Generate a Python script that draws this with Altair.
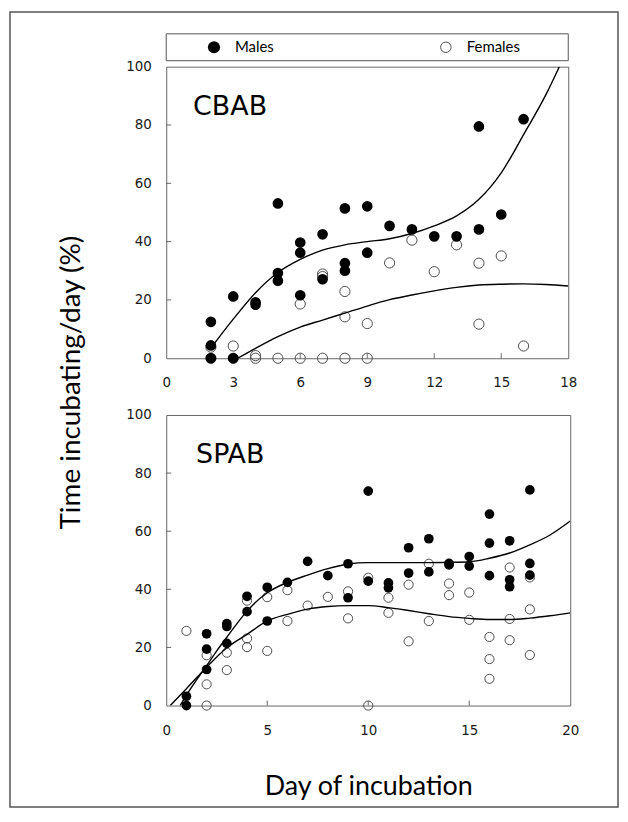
import altair as alt
import pandas as pd

# ---------------- data ----------------
panel_names = ["CBAB", "SPAB"]
legend_labels = ["Males", "Females"]

# CBAB (top panel)
cbab_m_day = [2, 2, 2, 3, 3, 4, 4, 5, 5, 5, 6, 6, 6, 7, 7, 8, 8, 8, 9, 9, 10, 11, 12, 13, 14, 14, 15, 16]
cbab_m_pct = [12.5, 4.4, 0, 21.2, 0, 19.2, 18.4, 53.1, 29.2, 26.6, 39.7, 36.2, 21.6, 42.5, 27.1,
              51.4, 32.6, 30.0, 52.1, 36.2, 45.4, 44.2, 41.8, 41.8, 79.5, 44.2, 49.3, 82.0]
cbab_f_day = [2, 2, 3, 3, 4, 4, 5, 6, 6, 7, 7, 7, 8, 8, 8, 9, 9, 10, 11, 12, 13, 14, 14, 15, 16]
cbab_f_pct = [3.8, 0, 4.2, 0, 0.9, 0, 0, 18.6, 0, 28.9, 28.0, 0, 22.9, 14.2, 0, 11.9, 0,
              32.7, 40.5, 29.7, 38.9, 32.6, 11.7, 35.1, 4.2]
cbab_fit_m_day = [2.05, 3, 4, 5, 6, 7, 8, 9, 10, 11, 12, 13, 14, 15, 16, 17, 17.6]
cbab_fit_m_pct = [4.0, 13.4, 22.5, 29.4, 33.9, 37.1, 38.9, 40.0, 41.0, 42.8, 45.4, 48.8, 54.5,
                  63.6, 76.7, 90.4, 100.0]
cbab_fit_f_day = [3.2, 4, 5, 6, 7, 8, 9, 10, 11, 12, 13, 14, 15, 16, 17, 18]
cbab_fit_f_pct = [0.0, 3.4, 7.4, 10.7, 13.1, 15.5, 17.9, 20.1, 21.7, 23.1, 24.3, 25.1, 25.4,
                  25.5, 25.3, 24.8]

# SPAB (bottom panel)
spab_m_day = [1, 1, 2, 2, 2, 3, 3, 3, 4, 4, 5, 5, 6, 7, 8, 9, 9, 10, 10, 11, 11, 12, 12, 13, 13,
              14, 14, 15, 15, 16, 16, 16, 17, 17, 17, 18, 18, 18]
spab_m_pct = [3.2, 0, 24.7, 19.4, 12.4, 28.2, 27.2, 21.4, 37.6, 32.3, 40.7, 29.1, 42.4, 49.6, 44.7,
              48.8, 37.1, 73.8, 42.8, 42.2, 40.5, 54.3, 45.6, 57.4, 46.0, 48.9, 48.4, 51.3, 48.0,
              65.9, 55.9, 44.7, 56.7, 43.3, 40.9, 74.2, 48.9, 44.9]
spab_f_day = [1, 2, 2, 2, 3, 3, 4, 4, 4, 5, 5, 6, 6, 7, 8, 9, 9, 10, 10, 11, 11, 12, 12, 13, 13,
              14, 14, 15, 15, 16, 16, 16, 17, 17, 17, 18, 18, 18]
spab_f_pct = [25.7, 17.3, 7.3, 0, 18.2, 12.2, 36.1, 23.1, 20.1, 37.3, 18.8, 39.7, 29.1, 34.4, 37.4,
              39.3, 30.0, 44.0, 0, 37.1, 31.9, 41.6, 22.1, 48.8, 29.1, 42.0, 38.0, 38.9, 29.5,
              23.6, 16.0, 9.2, 47.5, 29.8, 22.5, 44.1, 33.1, 17.4]
spab_fit_m_day = [0.69, 1, 1.5, 2, 2.5, 3, 3.5, 4, 5, 6, 7, 8, 9, 10, 11, 12, 13, 14, 15, 16, 17,
                  18, 19, 20]
spab_fit_m_pct = [0.0, 3.6, 8.8, 13.7, 18.8, 23.5, 28.2, 32.5, 38.8, 42.4, 44.9, 47.1, 48.7, 49.2,
                  49.2, 49.2, 49.2, 49.3, 49.5, 50.7, 52.5, 55.3, 58.7, 63.5]
spab_fit_f_day = [0.2, 1, 2, 3, 4, 5, 6, 7, 8, 9, 10, 11, 12, 13, 14, 15, 16, 17, 18, 19, 20]
spab_fit_f_pct = [0.0, 5.8, 13.2, 19.9, 24.5, 29.1, 31.4, 33.2, 34.1, 34.4, 34.4, 33.7, 32.7, 31.6,
                  30.6, 30.0, 29.6, 29.6, 30.1, 30.9, 31.9]

cbab_x_ticks = [0, 3, 6, 9, 12, 15, 18]
spab_x_ticks = [0, 5, 10, 15, 20]
y_ticks = [0, 20, 40, 60, 80, 100]

LABEL_FONT = "DejaVu Sans"
TITLE_FONT = "Lato"
FRAME = "#666666"
AXIS_BASE = dict(grid=False, domain=False, ticks=False, labelFlush=False,
                 labelFont=LABEL_FONT, labelFontSize=13.5, labelColor="#1a1a1a")


def df(days, pcts):
    return pd.DataFrame({"day": days, "pct": pcts})


def panel(name, m_day, m_pct, f_day, f_pct, fm_day, fm_pct, ff_day, ff_pct,
          x_ticks, w, h, lab_pad, x_title, y_title, name_pos, pt_size):
    xmax = x_ticks[-1]
    xs = alt.Scale(domain=[0, xmax], nice=False, zero=False)
    ys = alt.Scale(domain=[0, 100], nice=False)

    x_axis = alt.Axis(values=x_ticks, title=x_title, labelPadding=lab_pad,
                      titleFont=TITLE_FONT, titleFontSize=27, titleFontWeight="normal",
                      titleColor="#000", titlePadding=37, **AXIS_BASE)
    if y_title:
        y_axis = alt.Axis(values=y_ticks, title=y_title, titleX=-95, titleY=317,
                          titleAngle=270, titleAlign="center", titleBaseline="middle",
                          titleFont=TITLE_FONT, titleFontSize=28, titleFontWeight="normal",
                          titleColor="#000", labelPadding=15, **AXIS_BASE)
    else:
        y_axis = alt.Axis(values=y_ticks, title=None, labelPadding=15, **AXIS_BASE)

    X = alt.X("day:Q", scale=xs, axis=x_axis)
    Y = alt.Y("pct:Q", scale=ys, axis=y_axis)

    females = alt.Chart(df(f_day, f_pct)).mark_point(
        shape="circle", filled=False, fill="transparent", stroke="#4d4d4d",
        strokeWidth=1, size=pt_size, opacity=1
    ).encode(x=X, y=Y)
    males = alt.Chart(df(m_day, m_pct)).mark_point(
        shape="circle", filled=True, color="#000", size=pt_size + 10, opacity=1
    ).encode(x=X, y=Y)
    fit_m = alt.Chart(df(fm_day, fm_pct)).mark_line(
        color="#000", strokeWidth=1.4, interpolate="monotone", clip=True
    ).encode(x=X, y=Y)
    fit_f = alt.Chart(df(ff_day, ff_pct)).mark_line(
        color="#000", strokeWidth=1.4, interpolate="monotone", clip=True
    ).encode(x=X, y=Y)

    xt = alt.Chart(pd.DataFrame({"day": x_ticks[1:-1]})).mark_rule(
        color=FRAME, strokeWidth=1
    ).encode(x=X, y=alt.value(h), y2=alt.value(h - 5))
    yt = alt.Chart(pd.DataFrame({"pct": y_ticks[1:-1]})).mark_rule(
        color=FRAME, strokeWidth=1
    ).encode(y=Y, x=alt.value(0), x2=alt.value(5))

    label = alt.Chart(pd.DataFrame({"name": [name]})).mark_text(
        font=LABEL_FONT, fontSize=27, align="left", baseline="alphabetic", color="#000"
    ).encode(text="name:N", x=alt.value(name_pos[0]), y=alt.value(name_pos[1]))

    return alt.layer(females, xt, yt, males, fit_m, fit_f, label).properties(width=w, height=h)


top_main = panel(panel_names[0], cbab_m_day, cbab_m_pct, cbab_f_day, cbab_f_pct,
                 cbab_fit_m_day, cbab_fit_m_pct, cbab_fit_f_day, cbab_fit_f_pct,
                 cbab_x_ticks, 404, 293, 17, None, "Time incubating/day (%)", (27, 49), 105)

bottom = panel(panel_names[1], spab_m_day, spab_m_pct, spab_f_day, spab_f_pct,
               spab_fit_m_day, spab_fit_m_pct, spab_fit_f_day, spab_fit_f_pct,
               spab_x_ticks, 406, 292, 18, "Day of incubation", None, (30, 48), 85)

# legend box above the top panel, plus the outer frame of the figure
one = pd.DataFrame({"a": [0]})
leg = pd.DataFrame({"sex": legend_labels})
lx = alt.Scale(domain=legend_labels, range=[48, 281], padding=0)

leg_box = alt.Chart(one).mark_rect(fill="white", stroke="#555", strokeWidth=1).encode(
    x=alt.value(0), x2=alt.value(404), y=alt.value(-33), y2=alt.value(-6))
leg_m = alt.Chart(leg).transform_filter(alt.datum.sex == legend_labels[0]).mark_point(
    shape="circle", filled=True, color="#000", size=150, opacity=1
).encode(x=alt.X("sex:N", scale=lx, axis=None), y=alt.value(-19.5))
leg_f = alt.Chart(leg).transform_filter(alt.datum.sex == legend_labels[1]).mark_point(
    shape="circle", filled=False, fill="transparent", stroke="#4d4d4d", strokeWidth=1,
    size=110, opacity=1
).encode(x=alt.X("sex:N", scale=lx, axis=None), y=alt.value(-19.5))
leg_t = alt.Chart(leg).mark_text(
    font=TITLE_FONT, fontSize=15, align="left", baseline="middle", dx=21, color="#000"
).encode(x=alt.X("sex:N", scale=lx, axis=None), y=alt.value(-19.5), text="sex:N")
frame = alt.Chart(one).mark_rect(fill="transparent", stroke="#555", strokeWidth=1.5).encode(
    x=alt.value(-157), x2=alt.value(454), y=alt.value(-55), y2=alt.value(744))

legend_layer = alt.layer(frame, leg_box, leg_m, leg_f, leg_t)

top = alt.layer(top_main, legend_layer).resolve_scale(x="independent", y="independent")

chart = alt.vconcat(top, bottom, spacing=57, bounds="flush").properties(
    padding=0, background="white"
).configure_view(
    stroke=FRAME, strokeWidth=1
)

chart.save("out.html", embed_options={"renderer": "svg", "actions": False})
